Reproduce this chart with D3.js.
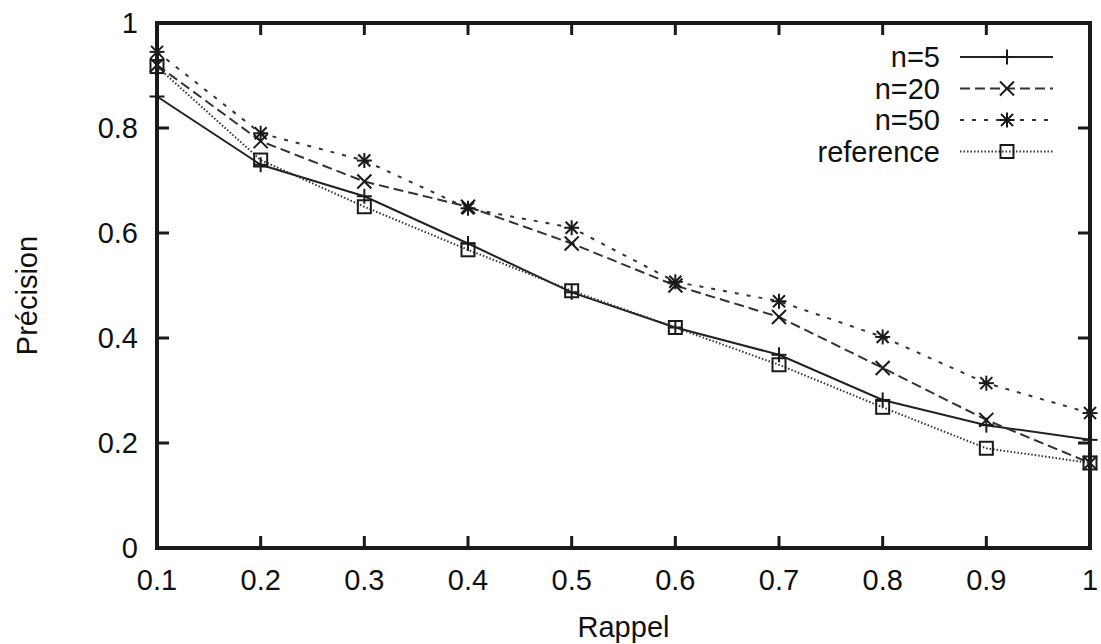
<!DOCTYPE html>
<html>
<head>
<meta charset="utf-8">
<script src="https://cdn.jsdelivr.net/npm/d3@7"></script>
<style>
    body { margin: 0; background: #fff; }
    text { font-family: "Liberation Sans", Helvetica, Arial, sans-serif; fill: #111; }
</style>
</head>
<body>
<div id="figure"></div>
<script>
// recall values (x axis)
const rappel = [0.1, 0.2, 0.3, 0.4, 0.5, 0.6, 0.7, 0.8, 0.9, 1.0];

// precision per series
const n5 = [0.86, 0.73, 0.67, 0.58, 0.487, 0.42, 0.368, 0.282, 0.234, 0.206];
const n20 = [0.92, 0.775, 0.698, 0.65, 0.58, 0.50, 0.44, 0.343, 0.244, 0.162];
const n50 = [0.945, 0.79, 0.738, 0.647, 0.61, 0.507, 0.47, 0.402, 0.314, 0.257];
const reference = [0.917, 0.739, 0.65, 0.568, 0.49, 0.42, 0.349, 0.268, 0.19, 0.162];

const seriesNames = ["n=5", "n=20", "n=50", "reference"];
const xTicks = [0.1, 0.2, 0.3, 0.4, 0.5, 0.6, 0.7, 0.8, 0.9, 1];
const yTicks = [0, 0.2, 0.4, 0.6, 0.8, 1];

const margin = { top: 23, right: 11, bottom: 96, left: 157 };
const W = 1101, H = 644;
const width = W - margin.left - margin.right;
const height = H - margin.top - margin.bottom;
const fs = 29;

const svg = d3.select("#figure")
    .append("svg")
    .attr("width", W)
    .attr("height", H)
    .append("g")
    .attr("transform", `translate(${margin.left},${margin.top})`);

const x = d3.scaleLinear().domain([0.1, 1]).range([0, width]);
const y = d3.scaleLinear().domain([0, 1]).range([height, 0]);

const ink = "#1a1a1a";
const tickLen = 12;

// tick labels
svg.selectAll(".ylab")
    .data(yTicks)
    .join("text")
    .attr("class", "ylab")
    .attr("x", -19)
    .attr("y", d => y(d))
    .attr("dy", "0.36em")
    .attr("text-anchor", "end")
    .attr("font-size", fs)
    .text(d => d3.format("~g")(d));

svg.selectAll(".xlab")
    .data(xTicks)
    .join("text")
    .attr("class", "xlab")
    .attr("x", d => x(d))
    .attr("y", height + 42)
    .attr("text-anchor", "middle")
    .attr("font-size", fs)
    .text(d => d3.format("~g")(d));

// ticks on all four sides, pointing inward
const tk = svg.append("g").attr("stroke", ink).attr("stroke-width", 3);
xTicks.forEach(function (t) {
    tk.append("line").attr("x1", x(t)).attr("x2", x(t)).attr("y1", height).attr("y2", height - tickLen);
    tk.append("line").attr("x1", x(t)).attr("x2", x(t)).attr("y1", 0).attr("y2", tickLen);
});
yTicks.forEach(function (t) {
    tk.append("line").attr("x1", 0).attr("x2", tickLen).attr("y1", y(t)).attr("y2", y(t));
    tk.append("line").attr("x1", width).attr("x2", width - tickLen).attr("y1", y(t)).attr("y2", y(t));
});

// frame
svg.append("rect")
    .attr("x", 0).attr("y", 0)
    .attr("width", width).attr("height", height)
    .attr("fill", "none")
    .attr("stroke", ink)
    .attr("stroke-width", 4);

// axis titles
svg.append("text")
    .attr("x", width / 2)
    .attr("y", height + 89)
    .attr("text-anchor", "middle")
    .attr("font-size", fs)
    .text("Rappel");

svg.append("text")
    .attr("transform", `translate(${-120},${height / 2 + 10}) rotate(-90)`)
    .attr("text-anchor", "middle")
    .attr("font-size", fs)
    .text("Précision");

// markers
function drawMarker(g, kind, cx, cy) {
    const s = 7.5;
    if (kind === "plus" || kind === "star") {
        g.append("line").attr("x1", cx - s).attr("x2", cx + s).attr("y1", cy).attr("y2", cy);
        g.append("line").attr("x1", cx).attr("x2", cx).attr("y1", cy - s).attr("y2", cy + s);
    }
    if (kind === "cross" || kind === "star") {
        const c = kind === "star" ? 6 : 7;
        g.append("line").attr("x1", cx - c).attr("x2", cx + c).attr("y1", cy - c).attr("y2", cy + c);
        g.append("line").attr("x1", cx - c).attr("x2", cx + c).attr("y1", cy + c).attr("y2", cy - c);
    }
    if (kind === "square") {
        g.append("rect").attr("x", cx - 6.5).attr("y", cy - 6.5)
            .attr("width", 13).attr("height", 13).attr("fill", "none");
    }
}

const series = [
    { name: seriesNames[0], values: n5, dash: null, marker: "plus", color: "#222" },
    { name: seriesNames[1], values: n20, dash: "10,5", marker: "cross", color: "#333" },
    { name: seriesNames[2], values: n50, dash: "4,8", marker: "star", color: "#333" },
    { name: seriesNames[3], values: reference, dash: "1.5,2", marker: "square", color: "#333" }
];

const line = d3.line()
    .x(d => x(d[0]))
    .y(d => y(d[1]));

series.forEach(function (s) {
    const pts = rappel.map((r, i) => [r, s.values[i]]);
    svg.append("path")
        .datum(pts)
        .attr("d", line)
        .attr("fill", "none")
        .attr("stroke", s.color)
        .attr("stroke-width", 2)
        .attr("stroke-dasharray", s.dash);
    const mg = svg.append("g").attr("stroke", ink).attr("stroke-width", 2);
    pts.forEach(p => drawMarker(mg, s.marker, x(p[0]), y(p[1])));
});

// legend
const legend = svg.append("g")
    .attr("transform", `translate(${940 - margin.left},${57 - margin.top})`);
series.forEach(function (s, i) {
    const ly = i * 31.5;
    legend.append("text")
        .attr("x", 0)
        .attr("y", ly)
        .attr("dy", "0.36em")
        .attr("text-anchor", "end")
        .attr("font-size", fs)
        .text(s.name);
    legend.append("line")
        .attr("x1", 20).attr("x2", 113)
        .attr("y1", ly).attr("y2", ly)
        .attr("stroke", s.color)
        .attr("stroke-width", 2)
        .attr("stroke-dasharray", s.dash);
    const mg = legend.append("g").attr("stroke", ink).attr("stroke-width", 2);
    drawMarker(mg, s.marker, 67, ly);
});
</script>
</body>
</html>
